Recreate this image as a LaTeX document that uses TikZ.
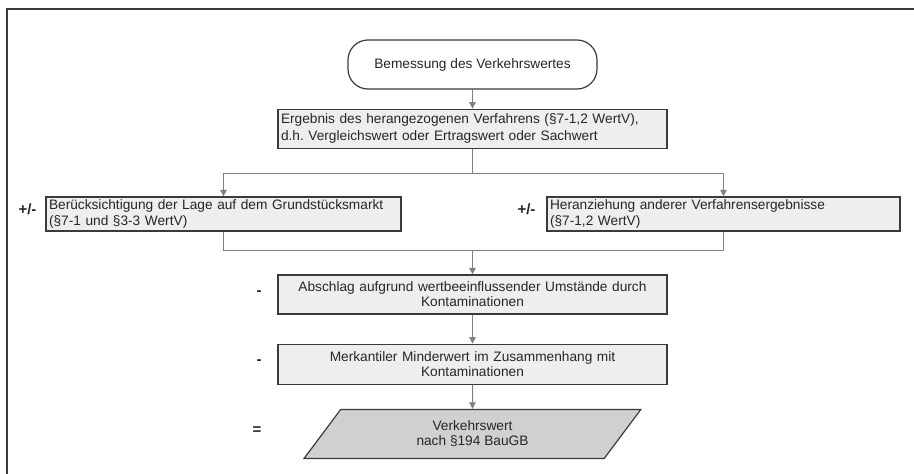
\documentclass[tikz,border=0pt]{standalone}
\usepackage{fontspec}
\setmainfont{Liberation Sans}
\usetikzlibrary{arrows.meta,positioning,shapes.geometric,calc}
\definecolor{boxgray}{HTML}{EEEEEE}
\definecolor{endgray}{HTML}{D0D0D0}
\definecolor{linegray}{HTML}{7F7F7F}
\definecolor{edgedark}{HTML}{3A3A3A}
\frenchspacing
\begin{document}
\begin{tikzpicture}[
			x=1pt,y=-1pt,
			node distance=19pt,
			every node/.style={font=\fontsize{13.7}{16.5}\selectfont,text=black!85},
			stufe/.style={draw=edgedark,line width=1.2pt,fill=boxgray,inner xsep=3pt,inner ysep=1pt},
			start/.style={draw=edgedark,line width=1.2pt,fill=white,rounded corners=20pt,minimum width=249pt,minimum height=49pt},
			ende/.style={trapezium,draw=edgedark,line width=1.2pt,fill=endgray,trapezium left angle=63,trapezium right angle=117,trapezium stretches=true,minimum width=337pt,minimum height=49pt,align=center,font=\fontsize{13.7}{14.6}\selectfont},
			vorz/.style={font=\bfseries\fontsize{15}{15}\selectfont,inner sep=0pt},
			verb/.style={linegray,line width=1pt},
			arr/.style={verb,-{Triangle[length=6.5pt,width=6.5pt]}}
			]
			\useasboundingbox (0,0) rectangle (914,474);
			\draw[edgedark,line width=1.4pt] (7,9) rectangle (930,490);
			% main column
			\node[start] (term) at (472.5,64.5) {Bemessung des Verkehrswertes};
			\node[stufe,minimum height=39pt,text width=383pt,align=left] (erg) [below=of term] {Ergebnis des herangezogenen Verfahrens (§7-1,2 WertV),\\d.h. Vergleichswert oder Ertragswert oder Sachwert};
			\node[stufe,minimum height=34pt,text width=349pt,align=left] (lage) at (223.5,214) {Berücksichtigung der Lage auf dem Grundstücksmarkt\\(§7-1 und §3-3 WertV)};
			\node[stufe,minimum height=34pt,text width=347pt,align=left] (verf) at (723.5,214) {Heranziehung anderer Verfahrensergebnisse\\(§7-1,2 WertV)};
			\node[stufe,minimum height=39pt,text width=383pt,align=center,font=\fontsize{13.7}{15}\selectfont] (abs) at (472.5,294.5) {Abschlag aufgrund wertbeeinflussender Umstände durch\\Kontaminationen};
			\node[stufe,minimum height=40pt,text width=383pt,align=center,font=\fontsize{13.7}{15}\selectfont] (merk) [below=29pt of abs] {Merkantiler Minderwert im Zusammenhang mit\\Kontaminationen};
			\node[ende] (vw) [below=24pt of merk] {Verkehrswert\\nach §194 BauGB};
			% signs
			\node[vorz] (pm1) at (27.5,209) {+/-};
			\node[vorz] (pm2) at (526.5,209) {+/-};
			\node[vorz] (m1) at (259,293) {-};
			\node[vorz] (m2) at (259,362) {-};
			\node[vorz] (eq) at (257,431) {=};
			% connectors
			\coordinate (split) at ($(erg.south)+(0,25)$);
			\coordinate (merge) at ($(erg.south|-lage.south)+(0,19)$);
			\draw[arr] (term) -- (erg);
			\draw[verb] (erg.south) -- (split);
			\draw[arr] (split) -| (lage.north);
			\draw[arr] (split) -| (verf.north);
			\draw[verb] (lage.south) |- (merge);
			\draw[verb] (verf.south) |- (merge);
			\draw[arr] (merge) -- (abs.north);
			\draw[arr] (abs) -- (merk);
			\draw[arr] (merk) -- (vw);
		\end{tikzpicture}
\end{document}
